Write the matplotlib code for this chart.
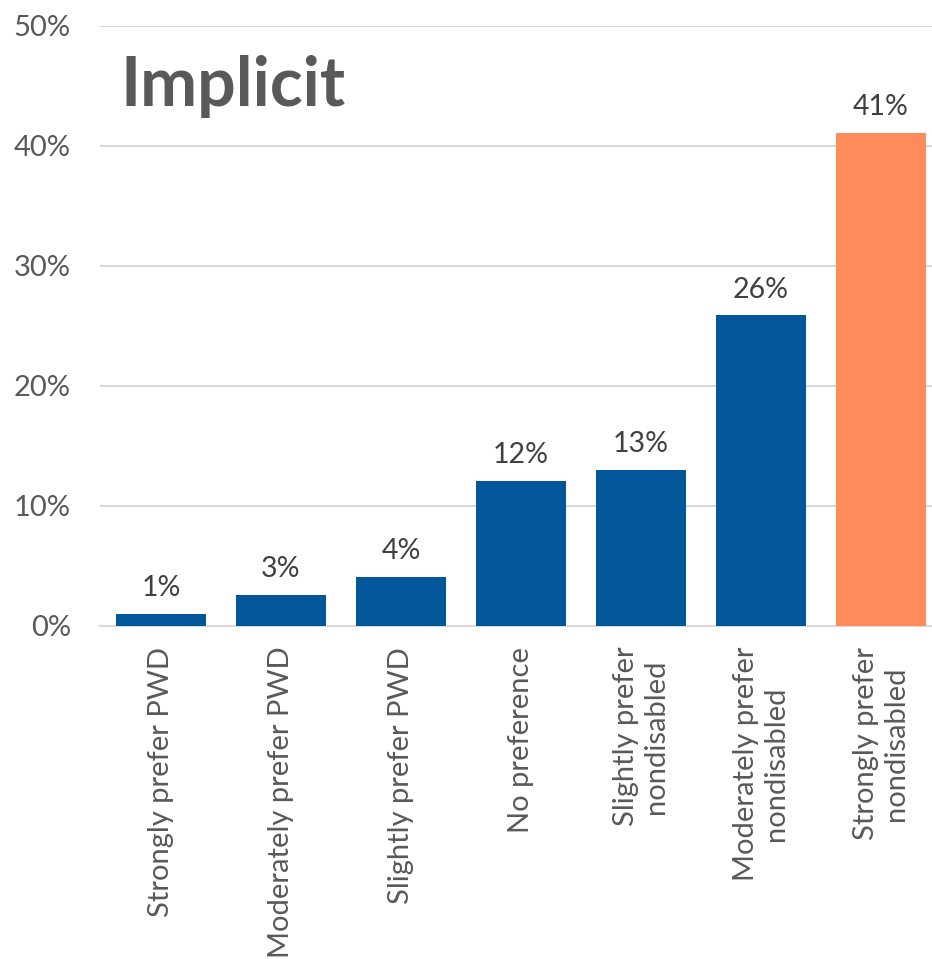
import matplotlib.pyplot as plt

# Data
categories = ['Strongly prefer PWD', 'Moderately prefer PWD', 'Slightly prefer PWD',
              'No preference', 'Slightly prefer\nnondisabled', 'Moderately prefer\nnondisabled',
              'Strongly prefer\nnondisabled']
values = [0.010, 0.026, 0.041, 0.121, 0.130, 0.259, 0.411]
labels = ['1%', '3%', '4%', '12%', '13%', '26%', '41%']
colors = ['#02569A'] * 6 + ['#FF8A5B']

grey = '#595959'
plt.rcParams['font.family'] = ['Lato', 'DejaVu Sans']

fig = plt.figure(figsize=(9.32, 9.59), dpi=100)
ax = fig.add_axes([100 / 932, 1 - 626 / 959, 832 / 932, 600 / 959])

x = range(len(categories))
bars = ax.bar(x, values, width=0.75, color=colors, zorder=3)

for b, lab in zip(bars, labels):
    ax.annotate(lab, (b.get_x() + b.get_width() / 2, b.get_height()),
                xytext=(0, 9), textcoords='offset points',
                ha='center', va='bottom', fontsize=20.5, color='#404040')

ax.set_ylim(0, 0.5)
ax.set_xlim(-0.508, 6.425)
ax.set_yticks([0, 0.1, 0.2, 0.3, 0.4, 0.5])
ax.set_yticklabels(['0%', '10%', '20%', '30%', '40%', '50%'])
ax.set_xticks(list(x))
ax.set_xticklabels(categories, rotation=90, va='top', ha='center')
ax.tick_params(axis='both', length=0, labelsize=21, labelcolor=grey)
ax.tick_params(axis='y', pad=21)
ax.tick_params(axis='x', pad=15)

ax.grid(axis='y', color='#D9D9D9', linewidth=1.5, zorder=0)
for s in ['top', 'right', 'left']:
    ax.spines[s].set_visible(False)
ax.spines['bottom'].set_color('#D9D9D9')
ax.spines['bottom'].set_linewidth(1.5)

fig.text(120 / 932, 1 - 106 / 959, 'Implicit', fontsize=49, fontweight='bold',
         color=grey, ha='left', va='baseline')

fig.savefig('out.png', dpi=100)
